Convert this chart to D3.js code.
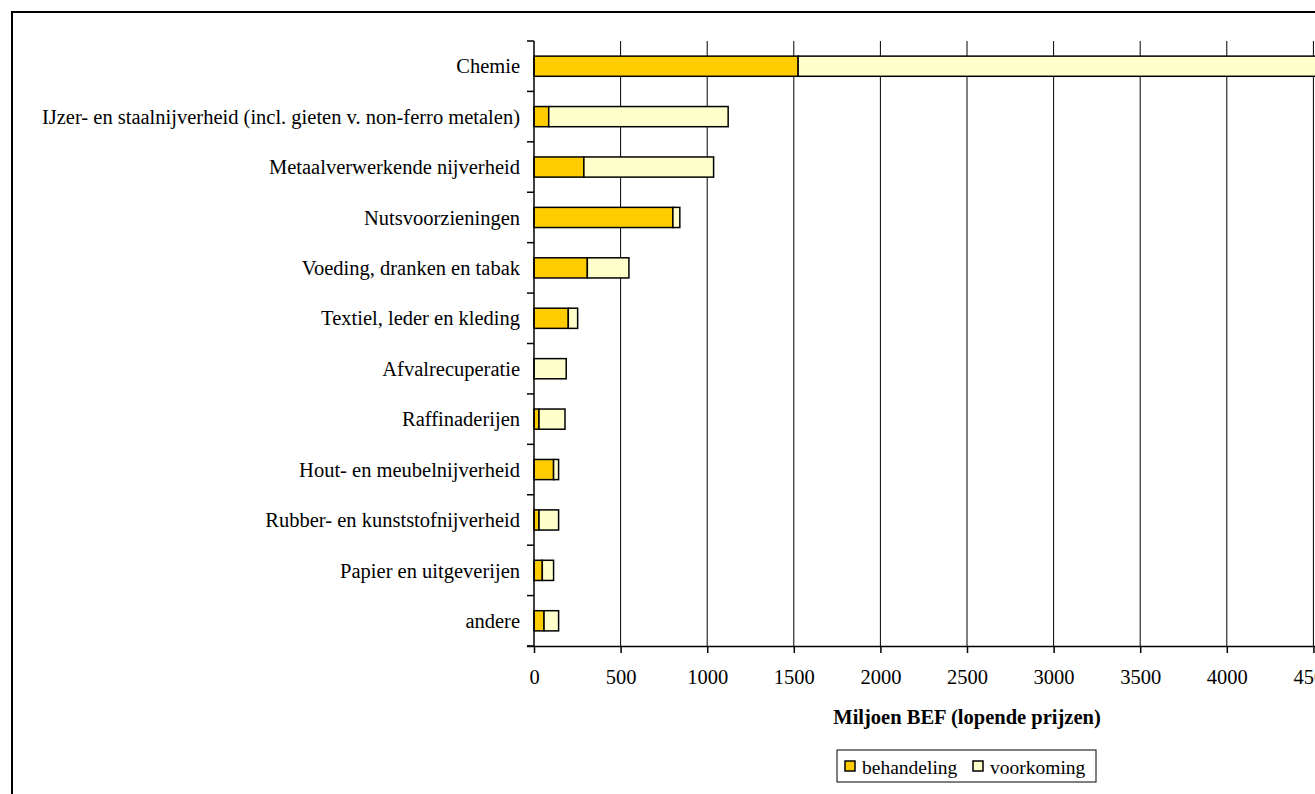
<!DOCTYPE html>
<html>
<head>
<meta charset="utf-8">
<script src="https://cdn.jsdelivr.net/npm/d3@7"></script>
<style>
  html, body { margin: 0; padding: 0; background: #fff; overflow: hidden; }
  svg { display: block; }
  text { font-family: "Liberation Serif", "Times New Roman", serif; fill: #000; }
</style>
</head>
<body>
<svg id="chart" width="1315" height="794"></svg>
<script>
// Milieu-uitgaven per sector, miljoen BEF (lopende prijzen)
const sectors = [
  "Chemie",
  "IJzer- en staalnijverheid (incl. gieten v. non-ferro metalen)",
  "Metaalverwerkende nijverheid",
  "Nutsvoorzieningen",
  "Voeding, dranken en tabak",
  "Textiel, leder en kleding",
  "Afvalrecuperatie",
  "Raffinaderijen",
  "Hout- en meubelnijverheid",
  "Rubber- en kunststofnijverheid",
  "Papier en uitgeverijen",
  "andere"
];
const behandeling = [1525, 85, 288, 802, 308, 198, 0, 29, 113, 29, 48, 58];
const voorkoming  = [3225, 1036, 749, 40, 240, 54, 186, 150, 29, 113, 65, 84];
const xTicks = [0, 500, 1000, 1500, 2000, 2500, 3000, 3500, 4000, 4500, 5000];
const seriesNames = ["behandeling", "voorkoming"];
const seriesColors = ["#FFCC00", "#FFFFCC"];

const FS = 20.5;
const svg = d3.select("#chart");

// outer frame of the chart area
svg.append("rect")
  .attr("x", 12).attr("y", 12)
  .attr("width", 1600).attr("height", 1000)
  .attr("fill", "none").attr("stroke", "#000").attr("stroke-width", 2);

const plot = { left: 534, right: 1400, top: 41, bottom: 646 };

const x = d3.scaleLinear().domain([0, 5000]).range([plot.left, plot.right]);
const y = d3.scaleBand().domain(sectors).range([plot.top, plot.bottom])
  .paddingInner(0.6).paddingOuter(0.3);
const yEdges = d3.scaleLinear().domain([0, sectors.length]).range([plot.top, plot.bottom]);

// vertical gridlines
svg.append("g").selectAll("line")
  .data(xTicks.filter(d => d > 0))
  .join("line")
  .attr("x1", d => x(d)).attr("x2", d => x(d))
  .attr("y1", plot.top).attr("y2", plot.bottom)
  .attr("stroke", "#000").attr("stroke-width", 1);

// stacked bars
const rows = sectors.map((s, i) => ({ sector: s, behandeling: behandeling[i], voorkoming: voorkoming[i] }));
const stacked = d3.stack().keys(seriesNames)(rows);

svg.append("g").selectAll("g")
  .data(stacked)
  .join("g")
  .attr("fill", (d, i) => seriesColors[i])
  .selectAll("rect")
  .data(d => d.filter(p => p[1] - p[0] > 0))
  .join("rect")
  .attr("x", d => x(d[0]))
  .attr("y", d => y(d.data.sector))
  .attr("width", d => x(d[1]) - x(d[0]))
  .attr("height", y.bandwidth())
  .attr("stroke", "#000").attr("stroke-width", 1.5);

// y axis: line, ticks at band boundaries, category labels
const yAxis = svg.append("g");
yAxis.append("line")
  .attr("x1", plot.left).attr("x2", plot.left)
  .attr("y1", plot.top).attr("y2", plot.bottom)
  .attr("stroke", "#000").attr("stroke-width", 1.5);
yAxis.selectAll("line.tick")
  .data(d3.range(sectors.length + 1))
  .join("line").attr("class", "tick")
  .attr("x1", plot.left - 7).attr("x2", plot.left)
  .attr("y1", d => yEdges(d)).attr("y2", d => yEdges(d))
  .attr("stroke", "#000").attr("stroke-width", 1.5);
yAxis.selectAll("text")
  .data(sectors)
  .join("text")
  .attr("x", plot.left - 14)
  .attr("y", d => y(d) + y.bandwidth() / 2)
  .attr("dy", "0.35em")
  .attr("text-anchor", "end")
  .attr("font-size", FS)
  .text(d => d);

// x axis
const xAxis = svg.append("g").attr("transform", `translate(0,${plot.bottom})`)
  .call(d3.axisBottom(x).tickValues(xTicks).tickFormat(d3.format("d"))
    .tickSize(7).tickPadding(16).tickSizeOuter(0));
xAxis.select(".domain").attr("stroke", "#000").attr("stroke-width", 1.5)
  .attr("d", `M${plot.left - 7},0.5H${plot.right}`);
xAxis.selectAll(".tick line").attr("stroke", "#000").attr("stroke-width", 1.5);
xAxis.selectAll(".tick text")
  .attr("font-family", "Liberation Serif, Times New Roman, serif")
  .attr("font-size", FS).attr("fill", "#000");

svg.append("text")
  .attr("x", (plot.left + plot.right) / 2).attr("y", 717)
  .attr("dy", "0.35em")
  .attr("text-anchor", "middle")
  .attr("font-size", FS).attr("font-weight", "bold")
  .text("Miljoen BEF (lopende prijzen)");

// legend
const legend = svg.append("g");
legend.append("rect")
  .attr("x", 837).attr("y", 750).attr("width", 259).attr("height", 32)
  .attr("fill", "#fff").attr("stroke", "#000").attr("stroke-width", 1);
const items = [{ x: 845, tx: 862 }, { x: 973, tx: 990 }];
seriesNames.forEach((name, i) => {
  legend.append("rect")
    .attr("x", items[i].x).attr("y", 761).attr("width", 10).attr("height", 10)
    .attr("fill", seriesColors[i]).attr("stroke", "#000").attr("stroke-width", 1.5);
  legend.append("text")
    .attr("x", items[i].tx).attr("y", 767).attr("dy", "0.35em")
    .attr("font-size", 19.5).text(name);
});
</script>
</body>
</html>
